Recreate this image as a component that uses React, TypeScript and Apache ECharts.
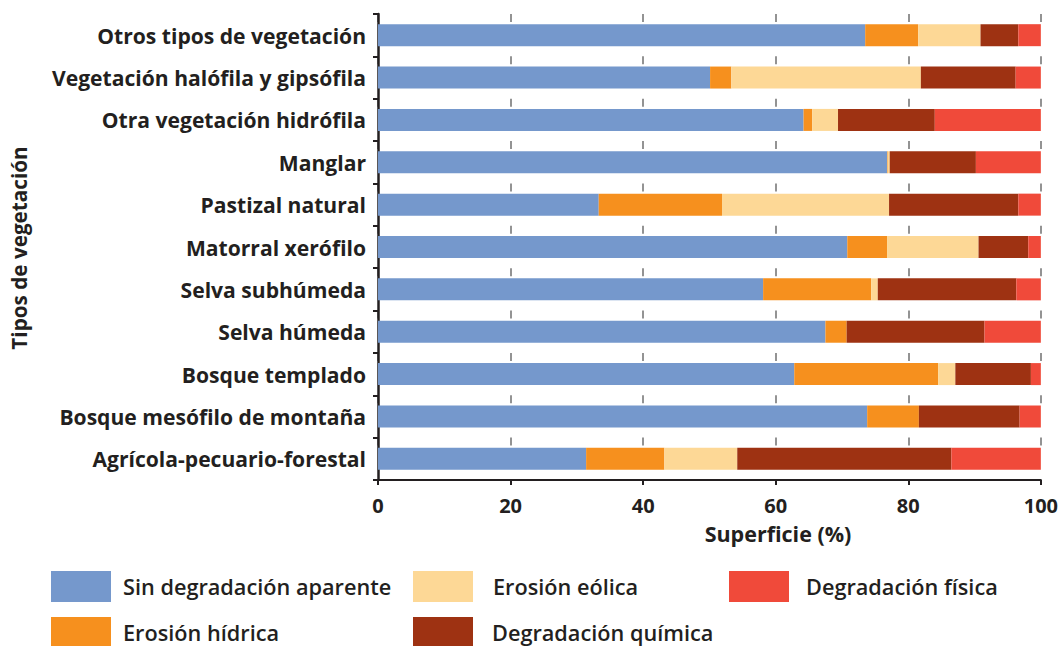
import React, { useEffect, useRef } from "react";
import * as echarts from "echarts";

const categories = [
  "Otros tipos de vegetación",
  "Vegetación halófila y gipsófila",
  "Otra vegetación hidrófila",
  "Manglar",
  "Pastizal natural",
  "Matorral xerófilo",
  "Selva subhúmeda",
  "Selva húmeda",
  "Bosque templado",
  "Bosque mesófilo de montaña",
  "Agrícola-pecuario-forestal",
];

const seriesNames = [
  "Sin degradación aparente",
  "Erosión hídrica",
  "Erosión eólica",
  "Degradación química",
  "Degradación física",
];

const sinDegradacion = [73.5, 50.1, 64.2, 76.8, 33.3, 70.8, 58.1, 67.5, 62.8, 73.8, 31.4];
const erosionHidrica = [8.0, 3.2, 1.3, 0.1, 18.6, 6.0, 16.3, 3.2, 21.7, 7.8, 11.8];
const erosionEolica = [9.4, 28.6, 3.9, 0.3, 25.2, 13.8, 1.0, 0, 2.6, 0, 11.0];
const degradacionQuimica = [5.7, 14.3, 14.6, 13.0, 19.5, 7.5, 20.9, 20.8, 11.4, 15.2, 32.3];
const degradacionFisica = [3.4, 3.8, 16.0, 9.8, 3.4, 1.9, 3.7, 8.5, 1.5, 3.2, 13.5];

const xTicks = [0, 20, 40, 60, 80, 100];

const colors = ["#7598CC", "#F6901E", "#FDD896", "#9E3212", "#F04A3A"];
const TEXT = "#231F20";
const FONT = "'Open Sans'";

export default function App() {
  const ref = useRef<HTMLDivElement>(null);

  useEffect(() => {
    if (!ref.current) return;
    const chart = echarts.init(ref.current, null, { renderer: "svg" });
    const values = [sinDegradacion, erosionHidrica, erosionEolica, degradacionQuimica, degradacionFisica];

    const legendPos = [
      { name: seriesNames[0], left: 51, top: 571, pad: 7 },
      { name: seriesNames[1], left: 51, top: 617, pad: 7 },
      { name: seriesNames[2], left: 413, top: 571, pad: 15 },
      { name: seriesNames[3], left: 413, top: 617, pad: 14 },
      { name: seriesNames[4], left: 729, top: 571, pad: 12 },
    ];

    chart.setOption({
      animation: false,
      color: colors,
      grid: { left: 378, right: 18, top: 14, bottom: 166, containLabel: false },
      legend: legendPos.map((l) => ({
        data: [l.name],
        left: l.left,
        top: l.top,
        padding: 0,
        itemWidth: 60,
        itemHeight: 31,
        icon: "rect",
        selectedMode: false,
        textStyle: {
          color: TEXT,
          fontFamily: FONT,
          fontSize: 21.7,
          fontWeight: 600,
          padding: [0, 0, 0, l.pad],
        },
      })),
      xAxis: {
        type: "value",
        min: xTicks[0],
        max: xTicks[xTicks.length - 1],
        interval: 20,
        axisLine: { show: true, lineStyle: { color: TEXT, width: 2 } },
        axisTick: { show: true, length: 5, lineStyle: { color: TEXT, width: 2 } },
        axisLabel: {
          color: TEXT,
          fontFamily: FONT,
          fontSize: 20,
          fontWeight: "bold",
          margin: 15,
        },
        splitLine: {
          show: true,
          lineStyle: { color: "#707070", width: 1.5, type: [8, 34.36] },
        },
      },
      yAxis: {
        type: "category",
        data: categories,
        inverse: true,
        axisLine: { show: true, lineStyle: { color: TEXT, width: 2.5 } },
        axisTick: { show: true, length: 5, lineStyle: { color: TEXT, width: 2 } },
        axisLabel: {
          color: TEXT,
          fontFamily: FONT,
          fontSize: 21.1,
          fontWeight: "bold",
          margin: 12,
        },
      },
      graphic: [
        {
          type: "text",
          x: 19,
          y: 248,
          rotation: Math.PI / 2,
          style: {
            text: "Tipos de vegetación",
            fill: TEXT,
            font: `bold 20.7px ${FONT}`,
            align: "center",
            verticalAlign: "middle",
          },
        },
        {
          type: "text",
          x: 778,
          y: 533,
          style: {
            text: "Superficie (%)",
            fill: TEXT,
            font: `bold 21.5px ${FONT}`,
            align: "center",
            verticalAlign: "middle",
          },
        },
      ],
      series: seriesNames.map((name, i) => ({
        name,
        type: "bar",
        stack: "total",
        barWidth: 22,
        data: values[i],
        itemStyle: { color: colors[i] },
      })),
    });

    return () => chart.dispose();
  }, []);

  return (
    <div
      ref={ref}
      style={{ position: "fixed", left: 0, top: 0, width: 1061, height: 646, background: "#fff" }}
    />
  );
}
